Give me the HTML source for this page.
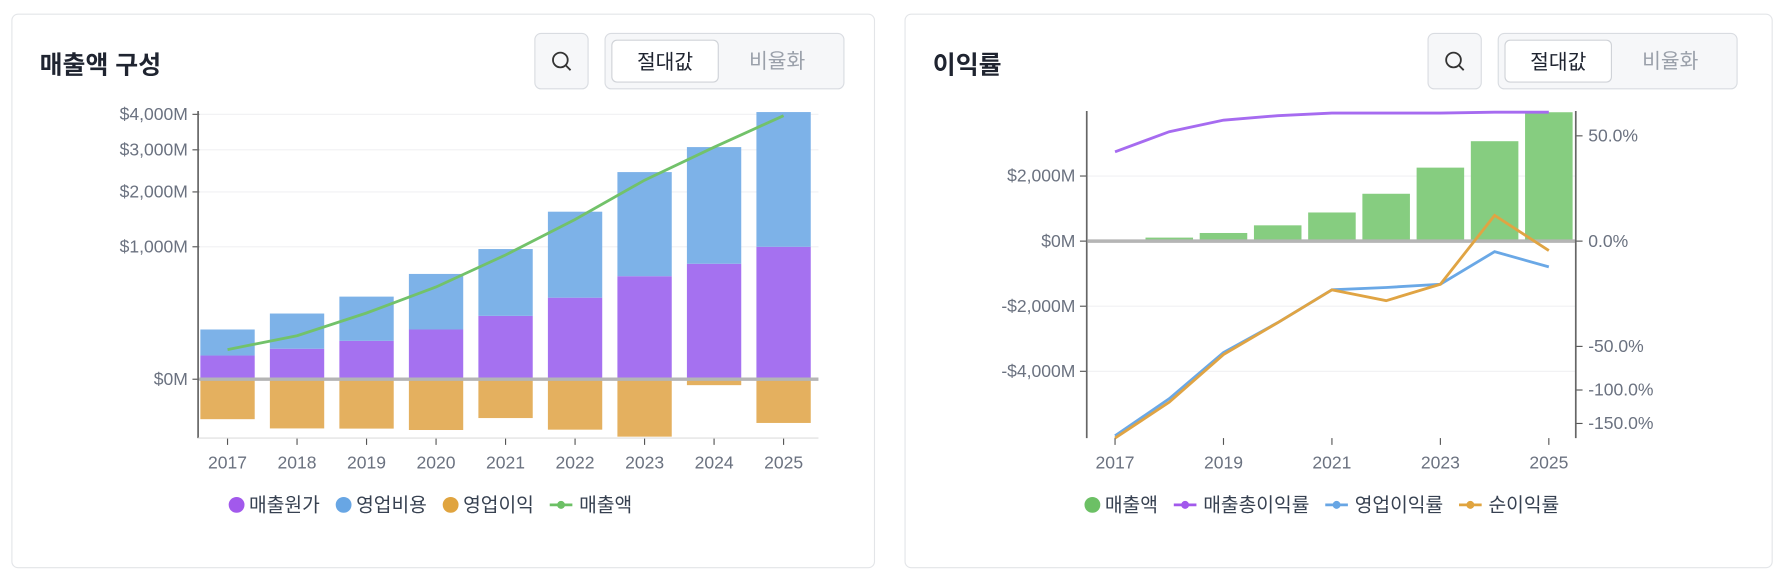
<!DOCTYPE html>
<html><head><meta charset="utf-8"><style>
body{margin:0;width:1775px;height:582px;background:#fff;font-family:"Liberation Sans","Noto Sans CJK KR",sans-serif;position:relative;overflow:hidden}
#root{position:absolute;left:0;top:0;width:1568px;height:514px;transform:scale(1.13202);transform-origin:0 0}
.card{position:absolute;top:12px;height:490px;border:1px solid #e3e5e8;border-radius:6px;background:#fff;box-sizing:border-box}
.title{position:absolute;left:24px;top:27px;font-size:22px;font-weight:bold;color:#1f2430}
.search{position:absolute;width:48px;height:50px;border:1px solid #d9dce1;border-radius:6px;background:#f6f7f9;top:16px;box-sizing:border-box}
.toggle{position:absolute;width:212px;height:50px;border:1px solid #d9dce1;border-radius:6px;background:#f6f7f9;top:16px;box-sizing:border-box}
.tbtn{position:absolute;top:5px;height:38px;width:95px;line-height:38px;text-align:center;font-size:18px;box-sizing:border-box}
.on{left:5px;background:#fff;border:1px solid #d0d3d8;border-radius:5px;color:#1f2430}
.off{left:104px;color:#9aa0aa}
svg{position:absolute;left:0;top:0}
</style></head><body>
<div id="root">
<div class="card" style="left:10px;width:763px">
 <div class="title">매출액 구성</div>
 <div class="search" style="left:461px"><svg width="48" height="50" style="position:static"><circle cx="22" cy="23" r="6.5" fill="none" stroke="#333" stroke-width="1.6"/><line x1="27" y1="28" x2="31" y2="32" stroke="#333" stroke-width="1.6"/></svg></div>
 <div class="toggle" style="left:523px"><div class="tbtn on">절대값</div><div class="tbtn off">비율화</div></div>
</div>
<div class="card" style="left:799px;width:767px">
 <div class="title">이익률</div>
 <div class="search" style="left:461px"><svg width="48" height="50" style="position:static"><circle cx="22" cy="23" r="6.5" fill="none" stroke="#333" stroke-width="1.6"/><line x1="27" y1="28" x2="31" y2="32" stroke="#333" stroke-width="1.6"/></svg></div>
 <div class="toggle" style="left:523px"><div class="tbtn on">절대값</div><div class="tbtn off">비율화</div></div>
</div>
<svg id="s" width="1568" height="514" font-family="Liberation Sans, Noto Sans CJK KR, sans-serif"></svg>
</div>
<script>
const years=['2017','2018','2019','2020','2021','2022','2023','2024','2025'];
const revenue=[50,108,250,485,880,1455,2258,3070,3960];
const costOfSales=[32,53,84,141,229,379,605,760,1000];
const opex=[109,193,305,491,737,1221,1841,2312,3069];
const grossMargin=[36,54,66,71,74,74,74,75,75];
const opMargin=[-171,-112,-56,-30,-10.7,-9.7,-8.4,-0.5,-3];
const netMargin=[-175,-117,-58,-30,-10.7,-16,-8.4,3,-0.4];
const leftTicks=[4000,3000,2000,1000,0];
const rTicksL=[2000,0,-2000,-4000];
const rTicksR=[50,0,-50,-100,-150];

const S=document.getElementById('s');const NS='http://www.w3.org/2000/svg';
function el(t,a,txt){const e=document.createElementNS(NS,t);for(const k in a)e.setAttribute(k,a[k]);if(txt!==undefined)e.textContent=txt;S.appendChild(e);return e;}
const sq=v=>Math.sign(v)*Math.sqrt(Math.abs(v));
const fmt=v=>(v<0?'-':'')+'$'+Math.abs(v).toLocaleString('en-US')+'M';
const FS=15.5;
// ---- left chart
const y1=v=>335-117*sq(v)/Math.sqrt(1000);
const x1=i=>201+i*61.4;
for(const t of leftTicks){
 let g=el('line',{x1:176,x2:723,y1:y1(t),y2:y1(t),stroke:'#f0f1f3'});
 
 let tk=el('line',{x1:170,x2:176,y1:y1(t),y2:y1(t),stroke:'#555'});
 
 let l=el('text',{x:166,y:y1(t)+5,'text-anchor':'end','font-size':FS,fill:'#6b7280'},fmt(t));
 
}
years.forEach((yr,i)=>{
 const c=costOfSales[i],o=opex[i],oi=revenue[i]-c-o,x=x1(i)-24;
 let b=el('rect',{x:x,y:y1(c),width:48,height:y1(0)-y1(c),fill:'#a571f0'});
 
 b=el('rect',{x:x,y:y1(c+o),width:48,height:y1(c)-y1(c+o),fill:'#7db2e8'});
 
 b=el('rect',{x:x,y:y1(Math.max(oi,0)),width:48,height:Math.abs(y1(oi)-y1(0)),fill:'#e4b05f'});
 
 let t=el('text',{x:x1(i),y:414,'text-anchor':'middle','font-size':FS,fill:'#6b7280'},yr);
 
 let tk=el('line',{x1:x1(i),x2:x1(i),y1:387,y2:393,stroke:'#555'});
 
});
let a=el('line',{x1:176,x2:723,y1:335,y2:335,stroke:'#b5b5b5','stroke-width':3});

a=el('line',{x1:175,x2:175,y1:98,y2:387,stroke:'#666','stroke-width':1.5});

a=el('line',{x1:175,x2:723,y1:387,y2:387,stroke:'#ddd'});

a=el('polyline',{points:revenue.map((v,i)=>x1(i)+','+y1(v)).join(' '),fill:'none',stroke:'#72c26a','stroke-width':2.5});

function legend(items,startX){let x=startX;items.forEach(([lab,col,line])=>{
 let m;if(line){m=el('line',{x1:x,x2:x+20,y1:446,y2:446,stroke:col,'stroke-width':2.5});el('circle',{cx:x+10,cy:446,r:3.5,fill:col});x+=26;}
 else{m=el('circle',{cx:x+7,cy:446,r:7,fill:col});x+=18;}
 
 let t=el('text',{x:x,y:452,'font-size':17,fill:'#374151'},lab);
 
 x+=t.getComputedTextLength()+14;});}
legend([['매출원가','#a259ec'],['영업비용','#68a6e4'],['영업이익','#e0a43f'],['매출액','#6cc065',1]],202);
// ---- right chart
const x2=i=>985+i*47.9;
const yL=v=>213-v*57.5/2000;
const yR=v=>213-93*sq(v)/Math.sqrt(50);
for(const t of rTicksL){
 let g=el('line',{x1:961,x2:1392,y1:yL(t),y2:yL(t),stroke:'#f0f1f3'});
 
 let tk=el('line',{x1:954,x2:960,y1:yL(t),y2:yL(t),stroke:'#555'});
 
 let l=el('text',{x:950,y:yL(t)+5,'text-anchor':'end','font-size':FS,fill:'#6b7280'},fmt(t));
 
}
for(const t of rTicksR){
 let tk=el('line',{x1:1392,x2:1398,y1:yR(t),y2:yR(t),stroke:'#555'});
 
 let l=el('text',{x:1403,y:yR(t)+5,'font-size':FS,fill:'#6b7280'},t.toFixed(1)+'%');
 
}
years.forEach((yr,i)=>{
 let b=el('rect',{x:x2(i)-21,y:yL(revenue[i]),width:42,height:yL(0)-yL(revenue[i]),fill:'#86cd80'});
 
 if(i%2==0){let t=el('text',{x:x2(i),y:414,'text-anchor':'middle','font-size':FS,fill:'#6b7280'},yr);
 
 let tk=el('line',{x1:x2(i),x2:x2(i),y1:387,y2:393,stroke:'#555'});}
});
a=el('line',{x1:961,x2:1392,y1:213,y2:213,stroke:'#b5b5b5','stroke-width':3});

a=el('line',{x1:960,x2:960,y1:98,y2:387,stroke:'#666','stroke-width':1.5});

a=el('line',{x1:1392,x2:1392,y1:98,y2:387,stroke:'#666','stroke-width':1.5});

[[grossMargin,'#a66bf0','gross-margin-line'],[opMargin,'#6aa8e6','operating-margin-line'],[netMargin,'#e0a443','net-margin-line']].forEach(([d,c,n])=>{
 let p=el('polyline',{points:d.map((v,i)=>x2(i)+','+Math.min(387,yR(v))).join(' '),fill:'none',stroke:c,'stroke-width':2.5});
 });
legend([['매출액','#6cc065'],['매출총이익률','#a259ec',1],['영업이익률','#68a6e4',1],['순이익률','#e0a43f',1]],958);
</script>
</body></html>
